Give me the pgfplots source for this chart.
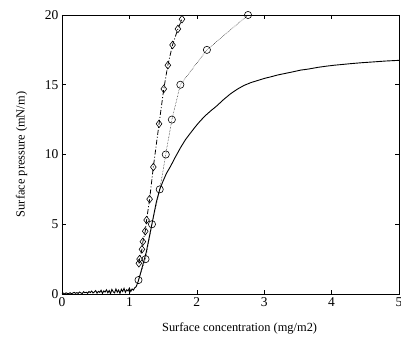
\documentclass[border=0pt]{standalone}
\usepackage{fontspec}
\setmainfont{Liberation Serif}
\usepackage{pgfplots}
\pgfplotsset{compat=1.18}
\begin{document}
\begin{tikzpicture}[x=1pt,y=1pt]
\begin{axis}[
  name=ax,
  at={(0,0)}, anchor=south west,
  width=337pt, height=279pt, scale only axis,
  xmin=0, xmax=5, ymin=0, ymax=20,
  xtick={0,1,2,3,4,5}, ytick={0,5,10,15,20},
  tick align=inside,
  major tick length=4pt,
  tick style={black, line width=0.6pt},
  axis line style={line width=0.8pt},
  /pgf/number format/assume math mode=true,
  tick label style={font=\fontsize{13.5}{15}\selectfont},
  label style={font=\fontsize{12.4}{14}\selectfont},
  xlabel={Surface concentration (mg/m2)},
  ylabel={Surface pressure (mN/m)},
  xlabel style={at={(axis description cs:0.527,-0.122)}, anchor=center},
  ylabel style={at={(axis description cs:-0.12,0.5)}, anchor=center},
  clip=false,
]
% solid isotherm
\addplot[black, line width=0.9pt] coordinates {
(0.00,0.02) (0.02,0.06) (0.04,0.01) (0.06,0.08) (0.08,0.04) (0.10,0.03)
(0.12,0.09) (0.14,0.02) (0.16,0.07) (0.18,0.12) (0.20,0.05) (0.22,0.10)
(0.24,0.04) (0.26,0.14) (0.28,0.08) (0.30,0.03) (0.32,0.16) (0.34,0.09)
(0.36,0.13) (0.38,0.05) (0.40,0.18) (0.42,0.10) (0.44,0.21) (0.46,0.07)
(0.48,0.15) (0.50,0.24) (0.52,0.06) (0.54,0.19) (0.56,0.12) (0.58,0.27)
(0.60,0.04) (0.62,0.22) (0.64,0.14) (0.66,0.30) (0.68,0.09) (0.70,0.25)
(0.72,0.02) (0.74,0.33) (0.76,0.16) (0.78,0.08) (0.80,0.36) (0.82,0.13)
(0.84,0.28) (0.86,0.05) (0.88,0.34) (0.90,0.18) (0.92,0.40) (0.94,0.12)
(0.96,0.30) (0.98,0.22) (1.00,0.42) (1.02,0.18) (1.04,0.36) (1.06,0.28)
(1.08,0.45) (1.10,0.52) (1.13,0.90) (1.16,1.40) (1.20,2.10) (1.25,3.00)
(1.30,4.20) (1.35,5.40) (1.40,6.60) (1.45,7.50) (1.50,8.10) (1.55,8.65)
(1.61,9.15) (1.68,9.80) (1.76,10.50) (1.83,11.05) (1.90,11.50) (1.98,12.00)
(2.05,12.40) (2.13,12.80) (2.20,13.10) (2.30,13.50) (2.40,13.95) (2.50,14.35)
(2.60,14.68) (2.70,14.95) (2.80,15.15) (2.90,15.30) (3.00,15.45) (3.10,15.57)
(3.20,15.70) (3.30,15.80) (3.42,15.92) (3.54,16.05) (3.65,16.12) (3.80,16.25)
(3.92,16.33) (4.04,16.40) (4.15,16.45) (4.30,16.52) (4.45,16.58) (4.60,16.63)
(4.80,16.70) (5.00,16.75)
};
% circles, dotted line
\addplot[black, line width=0.5pt, densely dotted, mark=o, mark size=3.6pt,
  mark options={solid, line width=0.6pt}] coordinates {
(1.135,1.0) (1.24,2.5) (1.335,5.0) (1.45,7.5) (1.54,10.0) (1.63,12.5)
(1.756,15.0) (2.15,17.5) (2.76,20.0)
};
% diamonds, dash-dot line
\addplot[black, line width=0.8pt, dash pattern=on 5pt off 2pt on 1pt off 2pt,
  mark=diamond, mark size=3.8pt, mark options={solid, line width=0.6pt, fill=white}] coordinates {
(1.14,2.2) (1.15,2.5) (1.186,3.2) (1.20,3.75) (1.235,4.5) (1.255,5.3) (1.30,6.8)
(1.355,9.1) (1.44,12.2) (1.51,14.7) (1.57,16.4) (1.64,17.85) (1.72,19.0) (1.78,19.7)
};
\end{axis}
\pgfresetboundingbox
\path (ax.south west) ++(-62pt,-45pt) rectangle ++(401pt,339pt);
\end{tikzpicture}
\end{document}
